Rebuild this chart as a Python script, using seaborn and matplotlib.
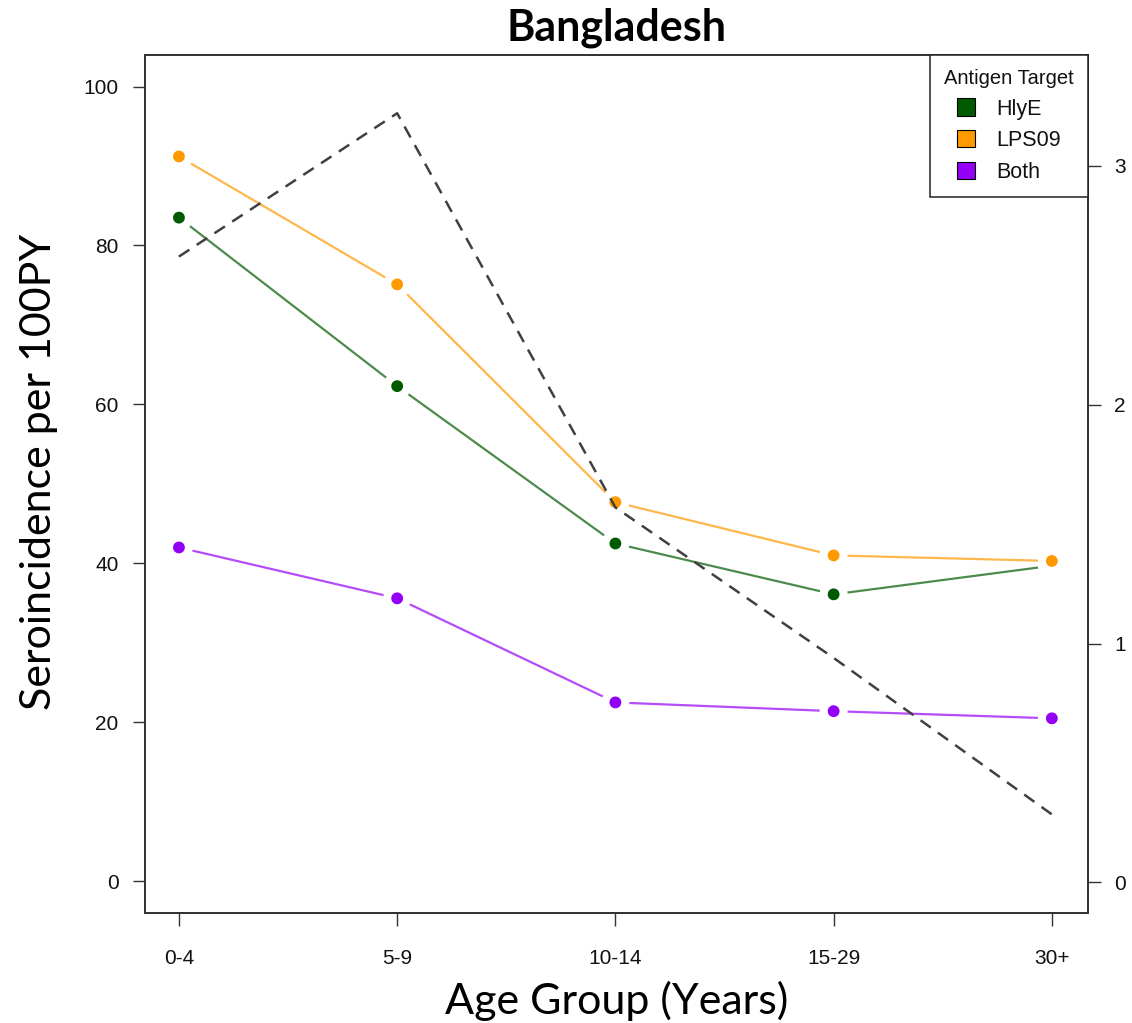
import matplotlib
matplotlib.use("Agg")
import matplotlib.pyplot as plt
from matplotlib.patches import Patch
import numpy as np
import pandas as pd
import seaborn as sns

# Age groups and seroincidence (per 100 person-years) by antigen target
age_groups = ["0-4", "5-9", "10-14", "15-29", "30+"]
hlye = [83.5, 62.3, 42.5, 36.1, 39.7]
lps09 = [91.2, 75.1, 47.7, 41.0, 40.3]
both = [42.0, 35.6, 22.5, 21.4, 20.5]
# secondary axis series (dashed)
ratio = [2.62, 3.22, 1.57, 0.94, 0.285]

series_names = ["HlyE", "LPS09", "Both"]
series_colors = {"HlyE": "#005A00", "LPS09": "#FF9900", "Both": "#9400F5"}

pos = np.arange(len(age_groups))
df = pd.DataFrame({
    "pos": np.tile(pos, 3),
    "value": hlye + lps09 + both,
    "antigen": np.repeat(series_names, len(age_groups)),
})
df_ratio = pd.DataFrame({"pos": pos, "ratio": ratio})

sns.set_style("white")
plt.rcParams["font.family"] = ["Liberation Sans", "DejaVu Sans"]

fig = plt.figure(figsize=(11.32, 10.23), dpi=100)
ax = fig.add_axes([0.128, 0.1075, 0.833, 0.839])

# connecting lines (slightly lighter than the points)
sns.lineplot(data=df, x="pos", y="value", hue="antigen", palette=series_colors,
             hue_order=series_names, linewidth=1.6, alpha=0.7, ax=ax,
             legend=False, zorder=2)
# points with a white halo so the lines stop short of them
sns.scatterplot(data=df, x="pos", y="value", hue="antigen", palette=series_colors,
                hue_order=series_names, s=205, edgecolor="white", linewidth=5.8,
                ax=ax, legend=False, zorder=3)

ax.set_xlim(-0.156, 4.165)
ax.set_ylim(-4, 104)
ax.set_yticks([0, 20, 40, 60, 80, 100])
ax.set_xticks(pos)
ax.set_xticklabels(age_groups)
ax.tick_params(axis="both", which="both", direction="out", length=9, width=1,
               color="#333333", labelsize=15, labelcolor="#111111")
ax.tick_params(axis="x", pad=17, bottom=True)
ax.tick_params(axis="y", pad=10, left=True)
for sp in ax.spines.values():
    sp.set_color("#333333")
    sp.set_linewidth(1.3)

ax.set_xlabel("Age Group (Years)", fontsize=31, family=["Lato", "DejaVu Sans"],
              color="black", labelpad=9)
ax.set_ylabel("Seroincidence per 100PY", fontsize=31, family=["Lato", "DejaVu Sans"],
              color="black", labelpad=18)
ax.yaxis.label.set_y(0.514)
ax.set_title("Bangladesh", fontsize=31, fontweight="bold", color="black",
             family=["Lato", "DejaVu Sans"], pad=10)

# secondary axis with the dashed series
ax2 = ax.twinx()
sns.lineplot(data=df_ratio, x="pos", y="ratio", color="#404040", linewidth=1.8,
             dashes=False, ax=ax2, zorder=4)
ax2.lines[-1].set_linestyle((0, (5, 3.5)))
ax2.set_ylim(-0.128, 3.465)
ax2.set_yticks([0, 1, 2, 3])
ax2.set_ylabel("")
ax2.tick_params(axis="y", direction="out", length=9, width=1, color="#333333",
                labelsize=15, labelcolor="#111111", pad=10, right=True)
for sp in ax2.spines.values():
    sp.set_color("#333333")
    sp.set_linewidth(1.3)

handles = [Patch(facecolor=series_colors[n], edgecolor="black", linewidth=0.8,
                 label=n) for n in series_names]
leg = ax2.legend(handles=handles, title="Antigen Target", loc="upper right",
                 bbox_to_anchor=(1.0, 1.0), borderaxespad=0, fancybox=False,
                 framealpha=1, edgecolor="#222222", fontsize=15.5,
                 title_fontsize=14.5, handlelength=0.85, handleheight=0.85,
                 handletextpad=1.0, labelspacing=0.5, borderpad=0.65)
leg.get_frame().set_linewidth(1.1)
for t in leg.get_texts():
    t.set_color("#111111")
leg.get_title().set_color("#111111")
leg._legend_box.align = "center"

fig.savefig("out.png", dpi=100)
